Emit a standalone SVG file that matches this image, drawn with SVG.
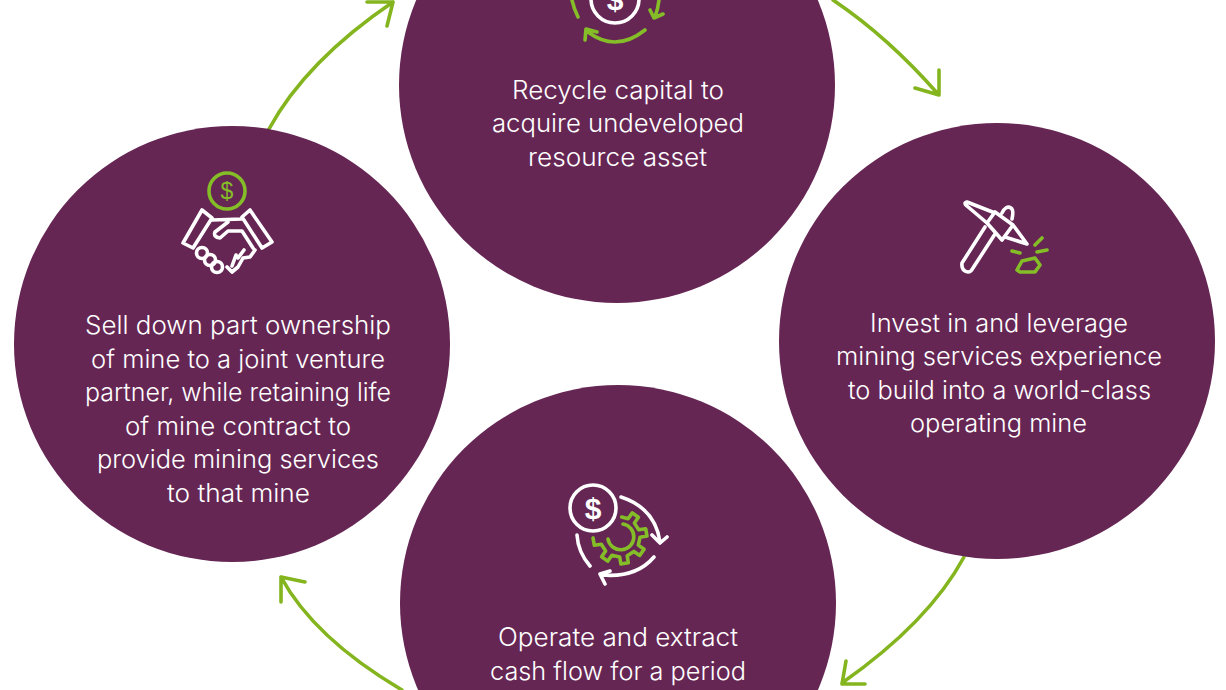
<svg xmlns="http://www.w3.org/2000/svg" width="1226" height="690" viewBox="0 0 1226 690">
<style>
.c{fill:#662654}
.t{font-family:"Inter","Open Sans",sans-serif;font-size:25px;font-weight:350;fill:#fff;text-anchor:middle}
.d{font-family:"Liberation Sans",sans-serif;font-weight:700;text-anchor:middle}
.w{fill:none;stroke:#fff;stroke-width:3.6;stroke-linecap:round;stroke-linejoin:round}
.g{fill:none;stroke:#84bd27;stroke-width:3.6;stroke-linecap:round;stroke-linejoin:round}
.a{fill:none;stroke:#84b51f;stroke-width:3.6;stroke-linecap:round;stroke-linejoin:round}
</style>
<rect width="1226" height="690" fill="#fff"/>
<g id="connectors">
<path class="a" d="M269 129Q306 61 393 2M367 2H393L387 26"/>
<path class="a" d="M833 0Q888 37 938 94M915 88L939 95L939 70"/>
<path class="a" d="M964 557Q929 622 842 683M846 661L842 684H865"/>
<path class="a" d="M402 690Q314 638 281 577M305 582L281 577V602"/>
</g>
<g id="node-top">
<circle class="c" cx="617" cy="85" r="218"/>
<path class="g" d="M572 0Q574 9 578 17M659 0Q658 9 655 17M650 10L654 18L663 14M645 30Q616 53 588 32M585 40L586 29L597 32"/>
<circle class="w" cx="615" cy="-1" r="24"/>
<text class="d" x="615" y="10" font-size="30" fill="#fff">$</text>
<text class="t" x="618" y="99" textLength="212" lengthAdjust="spacingAndGlyphs">Recycle capital to</text>
<text class="t" x="618" y="132" textLength="252" lengthAdjust="spacingAndGlyphs">acquire undeveloped</text>
<text class="t" x="617.5" y="166" textLength="179" lengthAdjust="spacingAndGlyphs">resource asset</text>
</g>
<g id="node-right">
<circle class="c" cx="997" cy="341" r="218"/>
<path class="w" d="M987 223L995 212L1013 225L1002 240ZM987 223L967 206Q963 203 967 202L995 213M1013 225L1027 244L1005 237M1002 213Q1006 205 1011 208Q1014 210 1012 219M985 227L962 263Q961 271 968 272Q971 272 973 268L995 234"/>
<path class="g" d="M1012 251L1020 253M1035 245L1042 238M1037 252L1047 250M1017 270L1022 261L1035 258L1040 265L1035 272L1020 272Z"/>
<text class="t" x="999" y="331.500" textLength="258" lengthAdjust="spacingAndGlyphs">Invest in and leverage</text>
<text class="t" x="999" y="365" textLength="326" lengthAdjust="spacingAndGlyphs">mining services experience</text>
<text class="t" x="999.5" y="398.500" textLength="303" lengthAdjust="spacingAndGlyphs">to build into a world-class</text>
<text class="t" x="998.5" y="432" textLength="177" lengthAdjust="spacingAndGlyphs">operating mine</text>
</g>
<g id="node-bottom">
<circle class="c" cx="618" cy="603" r="218"/>
<circle class="w" cx="593" cy="508" r="23"/>
<text class="d" x="593" y="519" font-size="30" fill="#fff">$</text>
<path class="w" d="M621 497Q655 508 660 542M652 535L660 543L667 537M654 557Q636 578 602 575M610 571L600 574L605 584M577 535Q578 552 590 566"/>
<path class="g" d="M621.7 517L628.1 518.7L632.3 512.9L638.4 517.3L634.4 523.1L638.7 529.8L645.7 528.7L647 536.1L640 537.3L638.3 545.1L644.1 549.3L639.7 555.4L633.9 551.4L627.2 555.7L628.3 562.7L620.9 564L619.7 557L611.9 555.3L607.7 561.1L601.6 556.7L605.6 550.9L601.3 544.2L594.3 545.3L593 537.9M623 524A13 13 0 1 1 608 539"/>
<text class="t" x="618" y="645.500" textLength="240" lengthAdjust="spacingAndGlyphs">Operate and extract</text>
<text class="t" x="618" y="679.500" textLength="256" lengthAdjust="spacingAndGlyphs">cash flow for a period</text>
</g>
<g id="node-left">
<circle class="c" cx="232" cy="344" r="218"/>
<circle class="g" cx="227" cy="191" r="18"/>
<text class="d" style="font-weight:400" x="227" y="199" font-size="23" fill="#84bd27">$</text>
<path class="w" d="M202 210L212 218L193 248L183 243ZM250 210L272 242L262 248L242 217ZM212 220L242 219M228 222L215 232Q213 237 220 238L228 231H242L253 248M255 250L250 257L243 258L238 267L232 272L227 267M244 250L238 258M236 255L232 266"/>
<circle class="w" cx="202" cy="253" r="5.500"/>
<circle class="w" cx="210" cy="260" r="5.500"/>
<circle class="w" cx="217" cy="267" r="5.500"/>
<text class="t" x="238" y="334" textLength="306" lengthAdjust="spacingAndGlyphs">Sell down part ownership</text>
<text class="t" x="238" y="367.500" textLength="294" lengthAdjust="spacingAndGlyphs">of mine to a joint venture</text>
<text class="t" x="238" y="401" textLength="306" lengthAdjust="spacingAndGlyphs">partner, while retaining life</text>
<text class="t" x="238" y="434.500" textLength="226" lengthAdjust="spacingAndGlyphs">of mine contract to</text>
<text class="t" x="238" y="468" textLength="282" lengthAdjust="spacingAndGlyphs">provide mining services</text>
<text class="t" x="238.500" y="501.500" textLength="143" lengthAdjust="spacingAndGlyphs">to that mine</text>
</g>
</svg>
